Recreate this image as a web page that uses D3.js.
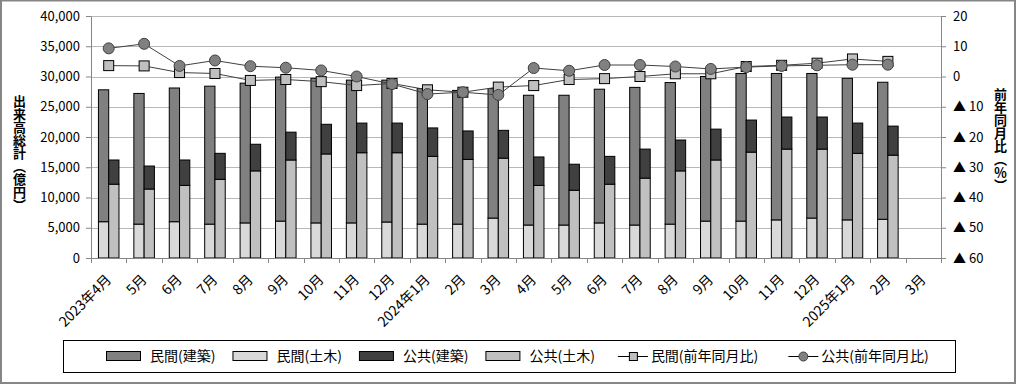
<!DOCTYPE html>
<html>
<head>
<meta charset="utf-8">
<script src="https://cdn.jsdelivr.net/npm/d3@7"></script>
<style>
  html, body { margin: 0; padding: 0; background: #fff; }
  #chart { position: relative; width: 1016px; height: 384px; }
  svg { display: block; font-family: "Noto Sans CJK JP", "Noto Sans", sans-serif; }
  .vtitle {
    position: absolute;
    writing-mode: vertical-rl;
    font-family: "Noto Sans CJK JP", sans-serif;
    font-size: 13px;
    font-weight: bold;
    line-height: 16px;
    color: #000;
  }
</style>
</head>
<body>
<div id="chart"></div>
<script>
// months (x categories)
var months = ['2023年4月', '5月', '6月', '7月', '8月', '9月', '10月', '11月', '12月',
    '2024年1月', '2月', '3月', '4月', '5月', '6月', '7月', '8月', '9月', '10月', '11月', '12月',
    '2025年1月', '2月', '3月'];

// 億円
var minkanKenchiku = [21800, 21600, 22100, 22800, 23100, 23800, 23900, 23600, 23450, 22400, 22100, 21400,
    21450, 21450, 22100, 22750, 23400, 23900, 24400, 24200, 23900, 23400, 22650];
var minkanDoboku = [6000, 5600, 6000, 5600, 5800, 6100, 5800, 5800, 5950, 5600, 5600, 6600,
    5450, 5450, 5800, 5450, 5600, 6100, 6100, 6300, 6600, 6300, 6400];
var koukyouKenchiku = [4000, 3800, 4200, 4300, 4400, 4600, 4900, 4900, 4900, 4700, 4700, 4600,
    4700, 4300, 4600, 4800, 5100, 5100, 5300, 5300, 5300, 5000, 4800];
var koukyouDoboku = [12200, 11400, 12000, 13000, 14400, 16200, 17200, 17400, 17400, 16800, 16300, 16500,
    12000, 11200, 12200, 13200, 14400, 16200, 17500, 18000, 18000, 17300, 17000];

// 前年同月比 (%)
var minkanYoY = [3.6, 3.5, 1.3, 1.0, -1.3, -1.0, -1.7, -3.0, -2.3, -4.4, -5.2, -3.5,
    -3.0, -1.0, -0.7, 0.0, 0.9, 0.9, 3.3, 3.7, 4.4, 5.8, 5.0];
var koukyouYoY = [9.3, 10.8, 3.5, 5.3, 3.4, 2.9, 2.0, 0.0, -2.5, -5.8, -5.2, -6.1,
    2.8, 1.9, 3.8, 3.8, 3.3, 2.5, 3.1, 3.5, 3.7, 3.9, 3.9];

var leftTicks = [0, 5000, 10000, 15000, 20000, 25000, 30000, 35000, 40000];
var rightTicks = [-60, -50, -40, -30, -20, -10, 0, 10, 20];

var legendNames = ['民間(建築)', '民間(土木)', '公共(建築)', '公共(土木)', '民間(前年同月比)', '公共(前年同月比)'];

(function() {
    'use strict';

    var W = 1016, H = 384;
    var pL = 91, pR = 941, pT = 16, pB = 258;

    var col = {
        mk: '#808080',
        md: '#d9d9d9',
        kk: '#404040',
        kd: '#c0c0c0'
    };

    var svg = d3.select('#chart').append('svg')
        .attr('width', W)
        .attr('height', H);

    svg.append('rect')
        .attr('x', 1).attr('y', 0.5)
        .attr('width', W - 2).attr('height', H - 1.5)
        .attr('fill', '#fff')
        .attr('stroke', '#868686')
        .attr('stroke-width', 2);

    var x = d3.scaleBand().domain(d3.range(months.length)).range([pL, pR]).padding(0);
    var yL = d3.scaleLinear().domain([0, 40000]).range([pB, pT]);
    var yR = d3.scaleLinear().domain([-60, 20]).range([pB, pT]);

    // gridlines
    svg.append('g')
        .selectAll('line')
        .data(leftTicks.slice(1))
        .join('line')
        .attr('x1', pL).attr('x2', pR)
        .attr('y1', function(d) { return Math.round(yL(d)) + 0.5; })
        .attr('y2', function(d) { return Math.round(yL(d)) + 0.5; })
        .attr('stroke', '#b8b8b8');

    // bars
    var bw = x.bandwidth() * 0.29;
    var off = x.bandwidth() / 2 - bw;

    function bars(base, vals, color, dx) {
        svg.append('g')
            .selectAll('rect')
            .data(vals)
            .join('rect')
            .attr('x', function(d, i) { return x(i) + dx; })
            .attr('width', bw)
            .attr('y', function(d, i) { return yL(base[i] + d); })
            .attr('height', function(d, i) { return yL(base[i]) - yL(base[i] + d); })
            .attr('fill', color)
            .attr('stroke', '#000')
            .attr('stroke-width', 1);
    }
    var zeros = minkanDoboku.map(function() { return 0; });
    bars(zeros, minkanDoboku, col.md, off);
    bars(minkanDoboku, minkanKenchiku, col.mk, off);
    bars(zeros, koukyouDoboku, col.kd, off + bw);
    bars(koukyouDoboku, koukyouKenchiku, col.kk, off + bw);

    // axes
    var axisColor = '#868686';
    var gL = svg.append('g')
        .attr('transform', 'translate(' + pL + ',0)')
        .call(d3.axisLeft(yL).tickValues(leftTicks).tickFormat(d3.format(','))
            .tickSize(5).tickSizeOuter(0).tickPadding(6));
    var gR = svg.append('g')
        .attr('transform', 'translate(' + pR + ',0)')
        .call(d3.axisRight(yR).tickValues(rightTicks)
            .tickFormat(function(d) { return d < 0 ? '▲ ' + (-d) : d; })
            .tickSize(5).tickSizeOuter(0).tickPadding(7));
    var gB = svg.append('g')
        .attr('transform', 'translate(0,' + pB + ')')
        .call(d3.axisBottom(x).tickSize(0).tickSizeOuter(0).tickFormat(''));

    [gL, gR, gB].forEach(function(g) {
        g.select('.domain').attr('stroke', axisColor);
        g.selectAll('.tick line').attr('stroke', axisColor);
        g.selectAll('.tick text').attr('fill', '#000').style('font-size', '13px')
            .style('font-family', '"Noto Sans CJK JP", sans-serif');
    });
    gR.selectAll('.tick text').attr('text-anchor', 'start');

    // x tick marks at category boundaries
    svg.append('g')
        .selectAll('line')
        .data(d3.range(months.length + 1))
        .join('line')
        .attr('x1', function(i) { return Math.round(pL + i * x.step()) + 0.5; })
        .attr('x2', function(i) { return Math.round(pL + i * x.step()) + 0.5; })
        .attr('y1', pB)
        .attr('y2', pB + 5)
        .attr('stroke', axisColor);

    // x labels
    svg.append('g')
        .selectAll('text')
        .data(months)
        .join('text')
        .attr('transform', function(d, i) {
            return 'translate(' + (x(i) + x.bandwidth() / 2) + ',' + 277 + ') rotate(-45)';
        })
        .attr('text-anchor', 'end')
        .attr('dy', '0.35em')
        .style('font-size', '14px')
        .text(function(d) { return d; });

    // lines
    var cx = function(d, i) { return x(i) + x.bandwidth() / 2; };
    var line = d3.line().x(cx).y(function(d) { return yR(d); });

    svg.append('path')
        .datum(minkanYoY)
        .attr('d', line)
        .attr('fill', 'none')
        .attr('stroke', '#404040')
        .attr('stroke-width', 1);
    svg.append('g')
        .selectAll('rect')
        .data(minkanYoY)
        .join('rect')
        .attr('x', function(d, i) { return cx(d, i) - 5; })
        .attr('y', function(d) { return yR(d) - 5; })
        .attr('width', 10).attr('height', 10)
        .attr('fill', '#c0c0c0')
        .attr('stroke', '#000')
        .attr('stroke-width', 1);

    svg.append('path')
        .datum(koukyouYoY)
        .attr('d', line)
        .attr('fill', 'none')
        .attr('stroke', '#404040')
        .attr('stroke-width', 1);
    svg.append('g')
        .selectAll('circle')
        .data(koukyouYoY)
        .join('circle')
        .attr('cx', cx)
        .attr('cy', function(d) { return yR(d); })
        .attr('r', 5.5)
        .attr('fill', '#808080')
        .attr('stroke', '#404040')
        .attr('stroke-width', 1);

    // axis titles, vertical writing (HTML handles vertical forms)
    var chart = d3.select('#chart');
    chart.append('div').attr('class', 'vtitle')
        .style('left', '11px').style('top', '95px')
        .text('出来高総計（億円）');
    chart.append('div').attr('class', 'vtitle')
        .style('left', '992px').style('top', '88px')
        .text('前年同月比（％）');

    // legend
    svg.append('rect')
        .attr('x', 63.5).attr('y', 340.5)
        .attr('width', 892).attr('height', 32)
        .attr('fill', '#fff')
        .attr('stroke', '#000');

    var lg = svg.append('g');
    var lx = 106, ly = 356;
    var sw = [col.mk, col.md, col.kk, col.kd];
    legendNames.forEach(function(name, i) {
        if (i < 4) {
            lg.append('rect')
                .attr('x', lx + 0.5).attr('y', ly - 4.5)
                .attr('width', 34).attr('height', 9)
                .attr('fill', sw[i]).attr('stroke', '#000');
            lx += 44;
        } else {
            lg.append('line')
                .attr('x1', lx).attr('x2', lx + 30)
                .attr('y1', ly + 0.5).attr('y2', ly + 0.5)
                .attr('stroke', '#000');
            if (i === 4) {
                lg.append('rect')
                    .attr('x', lx + 11.5).attr('y', ly - 3.5)
                    .attr('width', 8).attr('height', 8)
                    .attr('fill', '#c0c0c0').attr('stroke', '#000');
            } else {
                lg.append('circle')
                    .attr('cx', lx + 15).attr('cy', ly + 0.5).attr('r', 4.5)
                    .attr('fill', '#808080').attr('stroke', '#404040');
            }
            lx += 33;
        }
        var t = lg.append('text')
            .attr('x', lx).attr('y', ly)
            .attr('dy', '0.35em')
            .style('font-size', '14px')
            .text(name);
        lx += t.node().getComputedTextLength() + (i === 3 ? 23 : 17);
        if (i === 4) lx += 13;
    });
})();
</script>
</body>
</html>
